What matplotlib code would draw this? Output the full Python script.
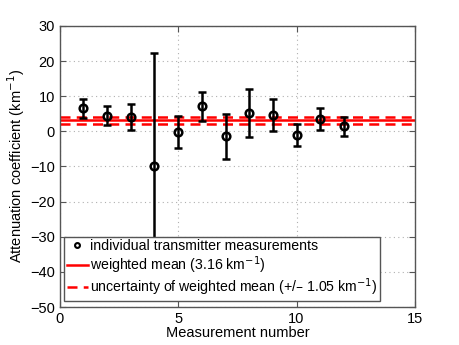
import matplotlib
matplotlib.use("Agg")
import matplotlib.pyplot as plt
import numpy as np

plt.rcParams['font.family'] = ['Liberation Sans', 'DejaVu Sans']

meas_num = [1, 2, 3, 4, 5, 6, 7, 8, 9, 10, 11, 12]
atten = [6.5, 4.4, 4.0, -9.8, -0.2, 7.1, -1.4, 5.1, 4.6, -1.0, 3.4, 1.5]
errs = [2.7, 2.7, 3.7, 32.2, 4.5, 4.2, 6.4, 6.8, 4.5, 3.1, 3.1, 2.7]
w_mean = 3.16
w_unc = 1.05
xticks = [0, 5, 10, 15]
yticks = [-50, -40, -30, -20, -10, 0, 10, 20, 30]

fig = plt.figure(figsize=(4.6, 3.45), dpi=100)
ax = fig.add_axes([0.130, 0.110, 0.772, 0.815])

ax.errorbar(meas_num, atten, yerr=errs, fmt='o', color='black', ecolor='black',
            elinewidth=1.8, capsize=3, capthick=1.8, markersize=5.5,
            markerfacecolor='none', markeredgewidth=1.8, zorder=3, label='_nolegend_')
h_pts, = ax.plot([], [], 'o', color='black', markerfacecolor='none', markersize=3.5,
                 markeredgewidth=1.5)
h_mean = ax.axhline(w_mean, color='red', lw=1.8, zorder=2)
h_u1 = ax.axhline(w_mean + w_unc, color='red', lw=1.8, ls=(0, (4, 2.5)), zorder=2)
ax.axhline(w_mean - w_unc, color='red', lw=1.8, ls=(0, (4, 2.5)), zorder=2)

ax.set_xlim(0, 15)
ax.set_ylim(-50, 30)
ax.set_xticks(xticks)
ax.set_yticks(yticks)
ax.set_yticklabels([str(t).replace('-', '\u2212') for t in yticks])
ax.grid(True, ls=(0, (1, 3)), color='#b0b0b0', lw=0.8)
ax.tick_params(direction='in', labelsize=10.5, length=4, top=True, right=True, color='#555555')
for s in ax.spines.values():
    s.set_color('#555555')
    s.set_linewidth(1.0)

ax.set_xlabel('Measurement number', fontsize=10.5, labelpad=0)
ax.set_ylabel('Attenuation coefficient (km$^{-1}$)', fontsize=10.5, labelpad=2)

leg = ax.legend([h_pts, h_mean, h_u1],
                ['individual transmitter measurements',
                 'weighted mean (3.16 km$^{-1}$)',
                 'uncertainty of weighted mean (+/\u2013 1.05 km$^{-1}$)'],
                loc='lower left', bbox_to_anchor=(0.003, 0.012), fontsize=10.2,
                frameon=True, fancybox=False, edgecolor='#555555', framealpha=1,
                handlelength=1.5, handletextpad=0.15, borderpad=0.2, labelspacing=0.05,
                borderaxespad=0.2)
leg.get_frame().set_linewidth(1.0)

fig.savefig('out.png', dpi=100)
